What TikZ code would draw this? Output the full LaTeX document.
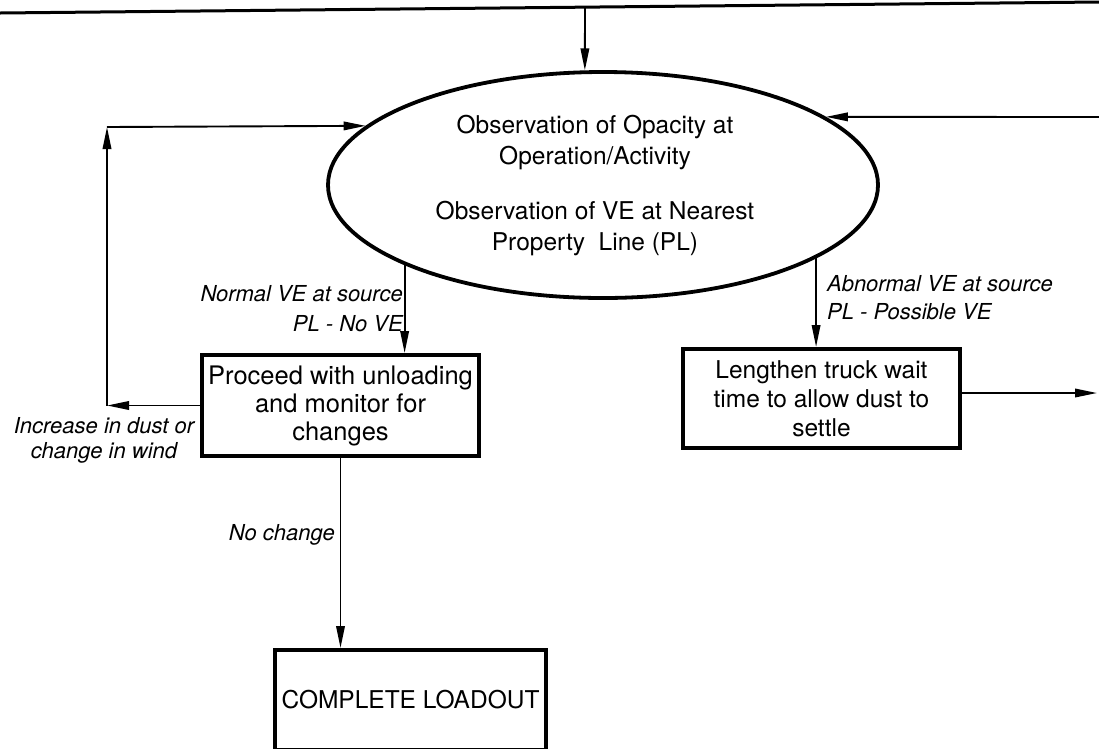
\documentclass[tikz,border=0pt]{standalone}
\usepackage{fontspec}
\setmainfont{TeX Gyre Heros}
\usetikzlibrary{shapes.geometric,arrows.meta}
\begin{document}
\begin{tikzpicture}[x=1pt,y=-1pt,
  conn/.style={line width=1.9pt,-{Triangle[length=22pt,width=8.5pt]}},
  procbox/.style={draw,line width=4pt,minimum width=277pt,minimum height=101pt,
    inner sep=0pt,align=center,font=\fontsize{24.5}{28}\selectfont},
  cond/.style={inner sep=0pt,font=\fontsize{22}{30}\selectfont\itshape},
]
\useasboundingbox (0,0) rectangle (1099,748);
\fill[white] (0,0) rectangle (1099,748);

% feed line along the top
\coordinate (tl) at (0,13);
\coordinate (tr) at (1099,2);
\coordinate (ttap) at (585,7.2);
\draw[line width=3pt] (tl) -- (tr);

% observation step
\node[draw,ellipse,line width=3.8pt,minimum width=550pt,minimum height=226pt,
      inner sep=0pt] (ell) at (603,185) {};
\node[align=center,inner sep=0pt,font=\fontsize{24.5}{31}\selectfont] (ellt) at (595,186)
  {Observation of Opacity at\\Operation/Activity\\[24pt]Observation of VE at Nearest\\Property\ \ Line (PL)};

% action boxes
\node[procbox,font=\fontsize{25.5}{28}\selectfont] (b1) at (340.5,405.5)
  {Proceed with unloading\\and monitor for\\changes};
\node[procbox,minimum height=99pt,font=\fontsize{24.5}{29}\selectfont] (b2) at (821.5,398.5)
  {Lengthen truck wait\\time to allow dust to\\settle};
\node[procbox,minimum width=271pt,minimum height=100pt] (b3) at (410.5,700) {COMPLETE LOADOUT};

% helper points
\coordinate (lb) at (107,405.5);
\coordinate (lt) at (107,127);
\coordinate (rin) at (1099,117);
\coordinate (rout) at (1097,393);

% connectors
\draw[conn] (ttap) -- (ell.99.1);
\draw[conn] (rin) -- (ell.17.2);
\draw[conn] (ell.202.4) -- (ell.202.4 |- b1.north);
\draw[conn] (ell.341.2) -- (ell.341.2 |- b2.north);
\draw[conn] (b1.west) -- (lb);
\draw[conn] (lb) -- (lt);
\draw[conn] (lt) -- (ell.166.2);
\draw[conn] (b1.south) -- (b1.south |- b3.north);
\draw[conn] (b2.east |- rout) -- (rout);

% condition labels
\node[cond,anchor=east,align=right] (lnorm) at (403,309) {Normal VE at source\\PL - No VE};
\node[cond,anchor=west,align=left,font=\fontsize{22}{28}\selectfont\itshape] (labn) at (827,298)
  {Abnormal VE at source\\PL - Possible VE};
\node[cond,align=center,font=\fontsize{22}{25}\selectfont\itshape] (linc) at (104,440)
  {Increase in dust or\\change in wind};
\node[cond,anchor=base east] (lnoch) at (335,540) {No change};
\end{tikzpicture}
\end{document}
